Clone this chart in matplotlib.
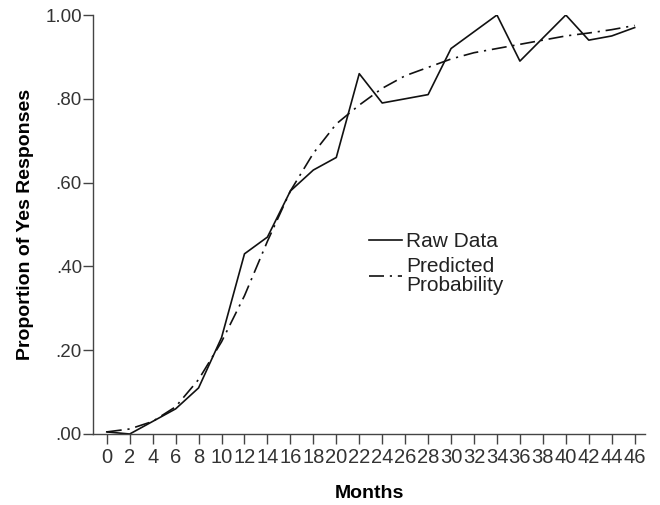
import matplotlib
matplotlib.use('Agg')
import matplotlib.pyplot as plt

plt.rcParams['font.family'] = ['Liberation Sans', 'DejaVu Sans']

months = [0, 2, 4, 6, 8, 10, 12, 14, 16, 18, 20, 22, 24, 26, 28, 30, 32, 34, 36, 38, 40, 42, 44, 46]
raw_data = [0.005, 0.00, 0.03, 0.06, 0.11, 0.23, 0.43, 0.47, 0.58, 0.63, 0.66, 0.86,
            0.79, 0.80, 0.81, 0.92, 0.96, 1.00, 0.89, 0.945, 1.00, 0.94, 0.95, 0.97]
predicted = [0.005, 0.012, 0.03, 0.065, 0.13, 0.22, 0.33, 0.46, 0.58, 0.67, 0.74, 0.785,
             0.825, 0.855, 0.875, 0.895, 0.91, 0.92, 0.93, 0.94, 0.95, 0.957, 0.965, 0.975]
y_ticks = [0.0, 0.2, 0.4, 0.6, 0.8, 1.0]
y_tick_labels = ['.00', '.20', '.40', '.60', '.80', '1.00']

fig = plt.figure(figsize=(6.6, 5.05), dpi=100, facecolor='white')
ax = fig.add_axes([93 / 660, 71 / 505, 552 / 660, 419 / 505])

ax.plot(months, raw_data, color='#111111', linewidth=1.2, label='Raw Data')
ax.plot(months, predicted, color='#111111', linewidth=1.2,
        linestyle=(0, (9, 3.5, 1.3, 3.5)), label='Predicted\nProbability')

ax.set_xlim(-1.2, 46.9)
ax.set_ylim(0, 1.0)
ax.set_xticks(months)
ax.set_xticklabels([str(m) for m in months])
ax.set_yticks(y_ticks)
ax.set_yticklabels(y_tick_labels)

for s in ['top', 'right']:
    ax.spines[s].set_visible(False)
for s in ['left', 'bottom']:
    ax.spines[s].set_color('#444444')
    ax.spines[s].set_linewidth(1.0)

ax.tick_params(axis='both', direction='out', length=7, width=1.0, color='#444444',
               labelcolor='#333333')
ax.tick_params(axis='x', pad=3, labelsize=14.5)
ax.tick_params(axis='y', pad=1, labelsize=13.5)

ax.set_xlabel('Months', fontsize=14, fontweight='bold', labelpad=13)
ax.set_ylabel('Proportion of Yes Responses', fontsize=14, fontweight='bold', labelpad=8)

leg = ax.legend(loc='upper left', bbox_to_anchor=(361 / 660, 1 - 224 / 505),
                bbox_transform=fig.transFigure, borderaxespad=0, frameon=False,
                fontsize=15, handlelength=1.55, handletextpad=0.2, labelspacing=0.25,
                labelcolor='#222222')
leg.get_texts()[1].set_linespacing(1.0)

fig.savefig('out.png', dpi=100, facecolor='white')
